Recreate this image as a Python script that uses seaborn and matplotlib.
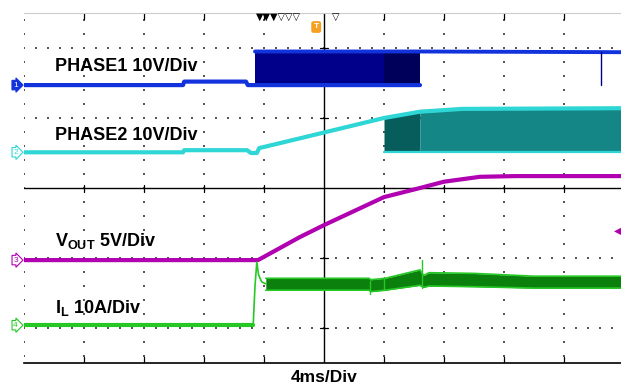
import numpy as np
import pandas as pd
import matplotlib
matplotlib.use('Agg')
import matplotlib.pyplot as plt
import seaborn as sns

# ── Trace data (time / amplitude in divisions) ──
ph1_t = [-5.0, -2.35, -2.33, -1.30, -1.27, -1.15, 1.60]
ph1_v = [1.47, 1.47, 1.52, 1.52, 1.47, 1.47, 1.47]
ph1_top_t = [-1.15, 1.60, 5.0]
ph1_top_v = [1.95, 1.95, 1.94]
ph1_spike_t = [4.62, 4.62]
ph1_spike_v = [1.95, 1.47]

ph2_t = [-5.0, -2.35, -2.33, -1.28, -1.22, -1.12, -1.08, -0.40, 1.0, 1.6, 2.3, 5.0]
ph2_v = [0.51, 0.51, 0.54, 0.54, 0.50, 0.50, 0.57, 0.71, 1.0, 1.09, 1.13, 1.14]
ph2_sw_t = [1.0, 1.6, 2.3, 5.0]
ph2_sw_hi = [1.0, 1.09, 1.13, 1.14]
ph2_sw_lo = [0.51, 0.51, 0.51, 0.51]

vout_t = [-5.0, -1.10, -0.40, 0.0, 1.0, 1.6, 2.0, 2.6, 3.2, 5.0]
vout_v = [-1.03, -1.03, -0.70, -0.53, -0.13, 0.0, 0.09, 0.16, 0.17, 0.17]

il_t = [-5.0, -1.18]
il_v = [-1.96, -1.96]
il_jump_t = [-1.18, -1.15, -1.12, -1.09, -1.04, -0.97]
il_jump_v = [-1.96, -1.40, -1.06, -1.24, -1.34, -1.37]
il_band_t = [-0.97, 0.75, 0.78, 1.02, 1.60, 1.66, 1.75, 2.5, 3.5, 5.0]
il_band_hi = [-1.29, -1.29, -1.31, -1.29, -1.17, -1.25, -1.21, -1.22, -1.26, -1.26]
il_band_lo = [-1.46, -1.46, -1.48, -1.46, -1.39, -1.42, -1.40, -1.41, -1.43, -1.43]
il_spikes = [(0.77, -1.51, -1.33), (1.0, -1.46, -1.27), (1.64, -1.43, -1.03)]

labels = ['PHASE1 10V/Div', 'PHASE2 10V/Div', r'$\mathbf{V_{OUT}}$ 5V/Div', r'$\mathbf{I_{L}}$ 10A/Div']
label_y = [1.67, 0.686, -0.83, -1.79]
time_label = '4ms/Div'

blue, navy, navy_dark = '#1232dc', '#00008a', '#00005a'
cyan, teal, teal_dark = '#2fd6d6', '#148686', '#075c5c'
magenta = '#b000b0'
green, green_dark = '#25c825', '#0c800c'

# ── Figure setup ───────────────────────────────────────────────────────
sns.set_style('white')
plt.rcParams['font.family'] = ['Liberation Sans', 'DejaVu Sans']
plt.rcParams['text.color'] = 'black'
plt.rcParams['mathtext.fontset'] = 'custom'
plt.rcParams['mathtext.rm'] = 'Liberation Sans'
plt.rcParams['mathtext.bf'] = 'Liberation Sans:bold'

fig = plt.figure(figsize=(6.21, 3.87), dpi=100)
ax = fig.add_axes([24 / 621, 24 / 387, 600 / 621, 350 / 387])
ax.set_xlim(-5, 5)
ax.set_ylim(-2.5, 2.5)
ax.set_xticks([])
ax.set_yticks([])
for side in ['left', 'right']:
    ax.spines[side].set_visible(False)
ax.spines['top'].set_color('#cccccc')
ax.spines['top'].set_linewidth(0.8)
ax.spines['bottom'].set_color('black')
ax.spines['bottom'].set_linewidth(1.2)

# dotted graticule
dot = dict(s=1.6, marker='s', color='#555555', linewidths=0, zorder=1)
minor_y = np.arange(-2.4, 2.5, 0.2)
minor_x = np.arange(-5, 5.01, 0.2)
for gx in [-5, -4, -3, -2, -1, 1, 2, 3, 4]:
    ax.scatter(np.full(len(minor_y), gx), minor_y, **dot)
for gy in [-2, -1, 1, 2]:
    ax.scatter(minor_x, np.full(len(minor_x), gy), **dot)
ax.axvline(0, color='black', lw=1.0, zorder=1)
ax.axhline(0, color='black', lw=1.0, zorder=1)
for gx in [-4, -3, -2, -1, 1, 2, 3, 4]:
    ax.plot([gx, gx], [-0.05, 0.05], color='black', lw=0.9, zorder=1)
    ax.plot([gx, gx], [2.5, 2.42], color='black', lw=0.9, zorder=1)
    ax.plot([gx, gx], [-2.5, -2.42], color='black', lw=0.9, zorder=1)
for gy in [-2, -1, 1, 2]:
    ax.plot([-0.06, 0.06], [gy, gy], color='black', lw=0.9, zorder=1)

# ── Switching envelopes ────────────────────────────────────────────────
ax.fill_between([-1.15, 1.0], 1.47, 1.95, color=navy, lw=0, zorder=2)
ax.fill_between([1.0, 1.6], 1.47, 1.95, color=navy_dark, lw=0, zorder=2)
ax.fill_between(ph2_sw_t[:2], ph2_sw_lo[:2], ph2_sw_hi[:2], color=teal_dark, lw=0, zorder=2)
ax.fill_between(ph2_sw_t[1:], ph2_sw_lo[1:], ph2_sw_hi[1:], color=teal, lw=0, zorder=2)
ax.fill_between(il_band_t, il_band_lo, il_band_hi, color=green_dark, lw=0, zorder=2)

# ── Traces ─────────────────────────────────────────────────────────────
traces = [
    (ph1_t, ph1_v, blue, 3.0),
    (ph1_top_t, ph1_top_v, blue, 2.8),
    (ph1_spike_t, ph1_spike_v, navy, 1.0),
    (ph2_t, ph2_v, cyan, 3.0),
    (ph2_sw_t, ph2_sw_lo, cyan, 1.6),
    (vout_t, vout_v, magenta, 3.0),
    (il_t, il_v, green, 3.0),
    (il_jump_t, il_jump_v, green, 1.2),
    (il_band_t, il_band_hi, green, 1.2),
    (il_band_t, il_band_lo, green, 1.2),
]
for t, v, c, lw in traces:
    df = pd.DataFrame({'t': t, 'v': v})
    sns.lineplot(data=df, x='t', y='v', color=c, lw=lw, sort=False,
                 estimator=None, ax=ax, zorder=3)
for st, lo, hi in il_spikes:
    ax.plot([st, st], [lo, hi], color=green, lw=1.0, zorder=3)
ax.set_xlabel('')
ax.set_ylabel('')

# ── Channel labels and scope markers ──────────────────────────────────
for txt, y in zip(labels, label_y):
    ax.text(-4.48, y, txt, fontsize=13, fontweight='bold', va='baseline', ha='left',
            color='black', zorder=4)
fig.text(324 / 621, 9 / 387, time_label, fontsize=12.5, fontweight='bold', ha='center',
         va='center', color='black')

chan = [('1', 1.47, blue, True), ('2', 0.51, cyan, False),
        ('3', -1.03, magenta, False), ('4', -1.96, green, False)]
for num, y, c, filled in chan:
    ax.text(-5.14, y, num, fontsize=6, ha='center', va='center', clip_on=False,
            color='white' if filled else c, zorder=4,
            bbox=dict(boxstyle='rarrow,pad=0.15', fc=c if filled else 'white', ec=c, lw=0.8))
ax.text(4.9, -0.61, '\u25c0', fontsize=7, color=magenta, ha='center', va='center',
        family='DejaVu Sans')
ax.text(-1.13, 2.44, '\u25bc\u25bc\u25bc\u25bd\u25bd\u25bd', fontsize=7, color='black',
        ha='left', va='center', family='DejaVu Sans')
ax.text(0.2, 2.44, '\u25bd', fontsize=7, color='black', ha='center', va='center', family='DejaVu Sans')
ax.text(-0.13, 2.30, 'T', fontsize=6, fontweight='bold', color='white', ha='center', va='center',
        bbox=dict(boxstyle='round,pad=0.2', fc='#f5a020', ec='#f5a020'))

fig.savefig('out.png', dpi=100)
